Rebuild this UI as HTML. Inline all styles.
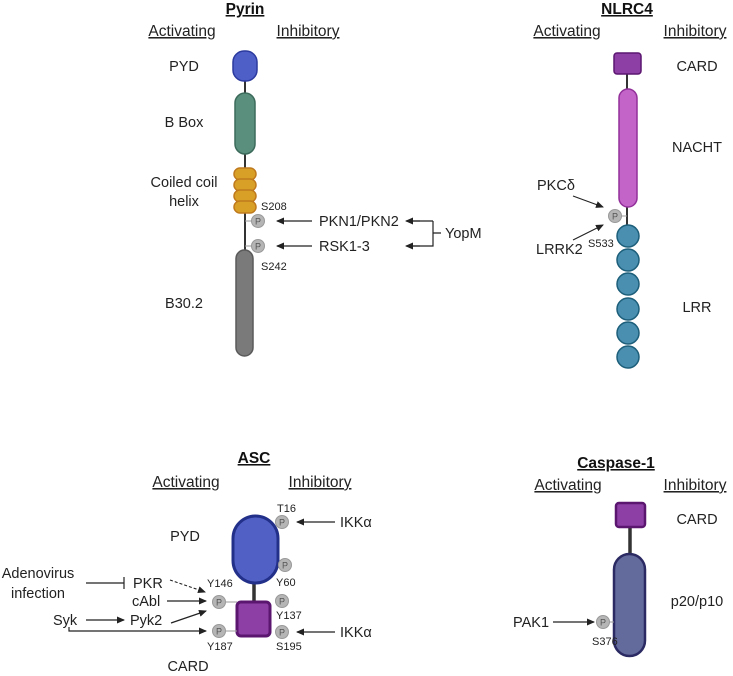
<!DOCTYPE html>
<html><head><meta charset="utf-8"><style>
html,body{margin:0;padding:0;background:#fff;}
svg{display:block;font-family:"Liberation Sans",sans-serif;}
.t{font-size:14.5px;fill:#222;}
.h{font-size:15.5px;fill:#222;text-decoration:underline;}
.b{font-size:15.5px;font-weight:bold;fill:#111;text-decoration:underline;}
.s{font-size:11px;fill:#222;}
.p{fill:#b5b5b5;stroke:#999;stroke-width:1;}
.pt{font-size:9px;fill:#555;}
</style></head><body>
<svg width="733" height="676" viewBox="0 0 733 676" xmlns="http://www.w3.org/2000/svg">
<defs>
<marker id="a" markerWidth="8" markerHeight="8" refX="7" refY="4" orient="auto" markerUnits="userSpaceOnUse"><path d="M0,0.5 L8,4 L0,7.5 Z" fill="#222"/></marker>
</defs>
<!-- Pyrin -->
<text class="b" x="245" y="14" text-anchor="middle">Pyrin</text>
<text class="h" x="182" y="36" text-anchor="middle">Activating</text>
<text class="h" x="308" y="36" text-anchor="middle">Inhibitory</text>
<line x1="245" y1="80" x2="245" y2="255" stroke="#333" stroke-width="2"/>
<rect x="233" y="51" width="24" height="30" rx="11" fill="#4f5fc8" stroke="#2b3a9e" stroke-width="1.5"/>
<rect x="235" y="93" width="20" height="61" rx="10" fill="#5a8f7d" stroke="#3d6b5b" stroke-width="1.5"/>
<g fill="#d9a027" stroke="#c07a1e" stroke-width="1.5">
<rect x="234" y="168" width="22" height="12" rx="6"/>
<rect x="234" y="179" width="22" height="12" rx="6"/>
<rect x="234" y="190" width="22" height="12" rx="6"/>
<rect x="234" y="201" width="22" height="12" rx="6"/>
</g>
<rect x="236" y="250" width="17" height="106" rx="8.5" fill="#7a7a7a" stroke="#5a5a5a" stroke-width="1.5"/>
<line x1="245" y1="221" x2="252" y2="221" stroke="#999"/><line x1="245" y1="246" x2="252" y2="246" stroke="#999"/>
<circle class="p" cx="258" cy="221" r="6.5"/><text class="pt" x="258" y="224.5" text-anchor="middle">P</text>
<circle class="p" cx="258" cy="246" r="6.5"/><text class="pt" x="258" y="249.5" text-anchor="middle">P</text>
<text class="s" x="261" y="210">S208</text>
<text class="s" x="261" y="270">S242</text>
<text class="t" x="184" y="71" text-anchor="middle">PYD</text>
<text class="t" x="184" y="127" text-anchor="middle">B Box</text>
<text class="t" x="184" y="187" text-anchor="middle">Coiled coil</text>
<text class="t" x="184" y="206" text-anchor="middle">helix</text>
<text class="t" x="184" y="308" text-anchor="middle">B30.2</text>
<line x1="312" y1="221" x2="277" y2="221" stroke="#222" stroke-width="1.2" marker-end="url(#a)"/>
<line x1="312" y1="246" x2="277" y2="246" stroke="#222" stroke-width="1.2" marker-end="url(#a)"/>
<text class="t" x="319" y="226">PKN1/PKN2</text>
<text class="t" x="319" y="251">RSK1-3</text>
<path d="M433,221 L407,221 M433,221 L433,246 L407,246 M433,233 L441,233" fill="none" stroke="#222" stroke-width="1.2"/>
<line x1="420" y1="221" x2="406" y2="221" stroke="#222" stroke-width="1.2" marker-end="url(#a)"/>
<line x1="420" y1="246" x2="406" y2="246" stroke="#222" stroke-width="1.2" marker-end="url(#a)"/>
<text class="t" x="445" y="238">YopM</text>

<!-- NLRC4 -->
<text class="b" x="627" y="14" text-anchor="middle">NLRC4</text>
<text class="h" x="567" y="36" text-anchor="middle">Activating</text>
<text class="h" x="695" y="36" text-anchor="middle">Inhibitory</text>
<line x1="627" y1="70" x2="627" y2="240" stroke="#333" stroke-width="2"/>
<rect x="614" y="53" width="27" height="21" rx="3" fill="#8e3fa6" stroke="#5b1670" stroke-width="1.5"/>
<rect x="619" y="89" width="18" height="118" rx="9" fill="#c364c9" stroke="#93309a" stroke-width="1.5"/>
<line x1="621" y1="216" x2="627" y2="216" stroke="#999"/>
<circle class="p" cx="615" cy="216" r="6.5"/><text class="pt" x="615" y="219.5" text-anchor="middle">P</text>
<g fill="#4a8fb0" stroke="#1d5f7a" stroke-width="1.5">
<circle cx="628" cy="236" r="11"/><circle cx="628" cy="260" r="11"/><circle cx="628" cy="284" r="11"/>
<circle cx="628" cy="309" r="11"/><circle cx="628" cy="333" r="11"/><circle cx="628" cy="357" r="11"/>
</g>
<text class="s" x="588" y="247">S533</text>
<text class="t" x="537" y="190">PKCδ</text>
<line x1="573" y1="196" x2="603" y2="207" stroke="#222" stroke-width="1.1" marker-end="url(#a)"/>
<text class="t" x="536" y="254">LRRK2</text>
<line x1="573" y1="240" x2="603" y2="225" stroke="#222" stroke-width="1.1" marker-end="url(#a)"/>
<text class="t" x="697" y="71" text-anchor="middle">CARD</text>
<text class="t" x="697" y="152" text-anchor="middle">NACHT</text>
<text class="t" x="697" y="312" text-anchor="middle">LRR</text>

<!-- ASC -->
<text class="b" x="254" y="463" text-anchor="middle">ASC</text>
<text class="h" x="186" y="487" text-anchor="middle">Activating</text>
<text class="h" x="320" y="487" text-anchor="middle">Inhibitory</text>
<line x1="254" y1="580" x2="254" y2="603" stroke="#333" stroke-width="3.5"/>
<rect x="233" y="516" width="45" height="67" rx="22.5" fill="#5060c5" stroke="#23308a" stroke-width="3"/>
<rect x="237" y="602" width="33" height="34" rx="4" fill="#8e3fa6" stroke="#5b1670" stroke-width="3"/>
<line x1="226" y1="602" x2="237" y2="602" stroke="#999"/><line x1="226" y1="631" x2="237" y2="631" stroke="#999"/>
<circle class="p" cx="282" cy="522" r="6.5"/><text class="pt" x="282" y="525.5" text-anchor="middle">P</text>
<circle class="p" cx="285" cy="565" r="6.5"/><text class="pt" x="285" y="568.5" text-anchor="middle">P</text>
<circle class="p" cx="282" cy="601" r="6.5"/><text class="pt" x="282" y="604.5" text-anchor="middle">P</text>
<circle class="p" cx="282" cy="632" r="6.5"/><text class="pt" x="282" y="635.5" text-anchor="middle">P</text>
<circle class="p" cx="219" cy="602" r="6.5"/><text class="pt" x="219" y="605.5" text-anchor="middle">P</text>
<circle class="p" cx="219" cy="631" r="6.5"/><text class="pt" x="219" y="634.5" text-anchor="middle">P</text>
<text class="s" x="277" y="512">T16</text>
<text class="s" x="276" y="586">Y60</text>
<text class="s" x="276" y="619">Y137</text>
<text class="s" x="276" y="650">S195</text>
<text class="s" x="207" y="587">Y146</text>
<text class="s" x="207" y="650">Y187</text>
<line x1="335" y1="522" x2="297" y2="522" stroke="#222" stroke-width="1.2" marker-end="url(#a)"/>
<line x1="335" y1="632" x2="297" y2="632" stroke="#222" stroke-width="1.2" marker-end="url(#a)"/>
<text class="t" x="340" y="527">IKKα</text>
<text class="t" x="340" y="637">IKKα</text>
<text class="t" x="185" y="541" text-anchor="middle">PYD</text>
<text class="t" x="188" y="671" text-anchor="middle">CARD</text>
<text class="t" x="38" y="578" text-anchor="middle">Adenovirus</text>
<text class="t" x="38" y="598" text-anchor="middle">infection</text>
<line x1="86" y1="583" x2="124" y2="583" stroke="#222" stroke-width="1.2"/>
<line x1="124" y1="577" x2="124" y2="589" stroke="#222" stroke-width="1.2"/>
<text class="t" x="133" y="588">PKR</text>
<line x1="170" y1="580" x2="205" y2="592" stroke="#222" stroke-width="1.1" stroke-dasharray="3,2" marker-end="url(#a)"/>
<text class="t" x="132" y="606">cAbl</text>
<line x1="167" y1="601" x2="206" y2="601" stroke="#222" stroke-width="1.2" marker-end="url(#a)"/>
<text class="t" x="53" y="625">Syk</text>
<line x1="86" y1="620" x2="124" y2="620" stroke="#222" stroke-width="1.2" marker-end="url(#a)"/>
<text class="t" x="130" y="625">Pyk2</text>
<line x1="171" y1="623" x2="206" y2="611" stroke="#222" stroke-width="1.2" marker-end="url(#a)"/>
<path d="M69,627 L69,631 L206,631" fill="none" stroke="#222" stroke-width="1.2" marker-end="url(#a)"/>

<!-- Caspase-1 -->
<text class="b" x="616" y="468" text-anchor="middle">Caspase-1</text>
<text class="h" x="568" y="490" text-anchor="middle">Activating</text>
<text class="h" x="695" y="490" text-anchor="middle">Inhibitory</text>
<line x1="630" y1="525" x2="630" y2="556" stroke="#333" stroke-width="3.5"/>
<rect x="616" y="503" width="29" height="24" rx="3" fill="#8e3fa6" stroke="#5b1670" stroke-width="2.5"/>
<rect x="614" y="554" width="31" height="102" rx="15.5" fill="#636a9c" stroke="#2b2a63" stroke-width="2.5"/>
<line x1="609" y1="622" x2="614" y2="622" stroke="#999"/>
<circle class="p" cx="603" cy="622" r="6.5"/><text class="pt" x="603" y="625.5" text-anchor="middle">P</text>
<text class="s" x="592" y="645">S376</text>
<text class="t" x="513" y="627">PAK1</text>
<line x1="553" y1="622" x2="594" y2="622" stroke="#222" stroke-width="1.2" marker-end="url(#a)"/>
<text class="t" x="697" y="524" text-anchor="middle">CARD</text>
<text class="t" x="697" y="606" text-anchor="middle">p20/p10</text>
</svg>
</body></html>
